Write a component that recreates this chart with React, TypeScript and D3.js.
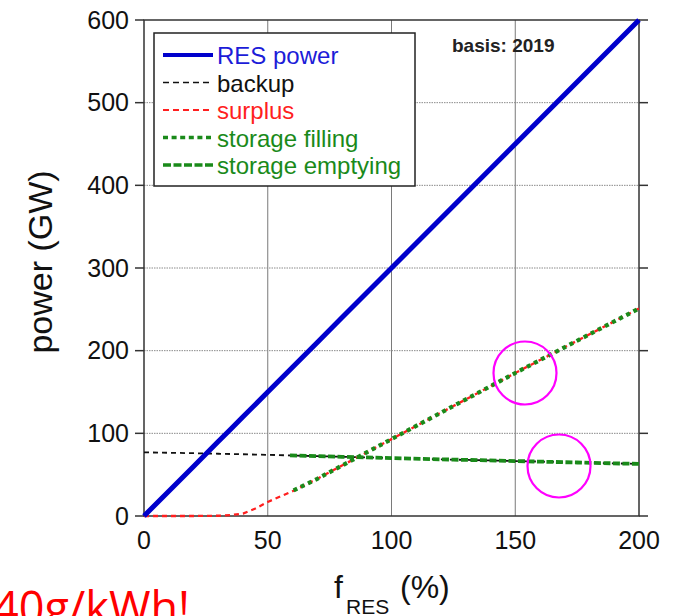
import React from "react";
import * as d3 from "d3";

// ---------- data ----------
const fRES = [0, 10, 20, 30, 35, 40, 45, 50, 60, 70, 80, 90, 100, 125, 150, 175, 200];
const resPower = [0, 30, 60, 90, 105, 120, 135, 150, 180, 210, 240, 270, 300, 375, 450, 525, 600];
const backup = [77, 76.5, 76, 75.3, 75, 74.7, 74.3, 74, 73.2, 72.4, 71.6, 70.8, 70, 68.2, 66.5, 64.7, 63];
const surplus = [0, 0, 0, 0.3, 1, 3, 9, 17, 30, 45, 61, 77, 93, 133, 173, 212, 251];

const fStorage = [59, 70, 80, 90, 100, 125, 150, 175, 200];
const storageFilling = [29, 45, 61, 77, 93, 133, 173, 212, 251];
const storageEmptying = [73.3, 72.4, 71.6, 70.8, 70, 68.2, 66.5, 64.7, 63];

const xTicks = [0, 50, 100, 150, 200];
const yTicks = [0, 100, 200, 300, 400, 500, 600];

const legendLabels = ["RES power", "backup", "surplus", "storage filling", "storage emptying"];

// ---------- styles ----------
const BLUE = "#0000cc";
const BLUE_TXT = "#1c1cd8";
const RED = "#ff1f1f";
const GREEN = "#1a8a1a";
const FONT = "'Liberation Sans', Arial, Helvetica, sans-serif";

export default function App() {
  const W = 673;
  const H = 616;
  const x = d3.scaleLinear().domain([0, 200]).range([144, 639]);
  const y = d3.scaleLinear().domain([0, 600]).range([516, 20]);

  const line = d3
    .line<[number, number]>()
    .x((d) => x(d[0]))
    .y((d) => y(d[1]));

  const pts = (xs: number[], ys: number[]) => xs.map((v, i) => [v, ys[i]] as [number, number]);

  const legendStyles = [
    { stroke: BLUE, width: 4, dash: "none", color: BLUE_TXT },
    { stroke: "#111", width: 1.6, dash: "6,4", color: "#111" },
    { stroke: RED, width: 1.8, dash: "6,4", color: RED },
    { stroke: GREEN, width: 3.5, dash: "5,3.6", color: GREEN },
    { stroke: GREEN, width: 3.5, dash: "8,2.5", color: GREEN },
  ];

  const [x0, x1] = x.range();
  const [yb, yt] = y.range();

  return (
    <svg
      width={W}
      height={H}
      style={{ position: "absolute", left: 0, top: 0, background: "#fff" }}
      fontFamily={FONT}
    >
      <rect x={0} y={0} width={W} height={H} fill="#fff" />

      {/* grid */}
      {xTicks.slice(1, -1).map((t) => (
        <line key={"gx" + t} x1={x(t)} x2={x(t)} y1={yb} y2={yt} stroke="#7a7a7a" strokeWidth={1} />
      ))}
      {yTicks.slice(1, -1).map((t) => (
        <line
          key={"gy" + t}
          x1={x0}
          x2={x1}
          y1={y(t)}
          y2={y(t)}
          stroke="#8a8a8a"
          strokeWidth={1}
          strokeDasharray="1.5,1"
        />
      ))}

      {/* frame */}
      <rect x={x0} y={yt} width={x1 - x0} height={yb - yt} fill="none" stroke="#333" strokeWidth={1.5} />
      {yTicks.map((t) => (
        <g key={"yt" + t}>
          <line x1={x0 - 9} x2={x0} y1={y(t)} y2={y(t)} stroke="#333" strokeWidth={1.5} />
          <line x1={x1} x2={x1 + 9} y1={y(t)} y2={y(t)} stroke="#333" strokeWidth={1.5} />
          <text x={129} y={y(t)} dy="0.35em" textAnchor="end" fontSize={25} fill="#111">
            {t}
          </text>
        </g>
      ))}
      {xTicks.map((t) => (
        <text key={"xt" + t} x={x(t)} y={549} textAnchor="middle" fontSize={25} fill="#111">
          {t}
        </text>
      ))}

      {/* axis titles */}
      <text transform="translate(52,262) rotate(-90)" textAnchor="middle" fontSize={34} fill="#111">
        power (GW)
      </text>
      <text x={334} y={598} fontSize={32} fill="#111">
        f
      </text>
      <text x={346} y={614} fontSize={21} fill="#111">
        RES
      </text>
      <text x={400} y={598} fontSize={32} fill="#111">
        (%)
      </text>

      {/* data lines */}
      <path d={line(pts(fRES, backup)) || ""} fill="none" stroke="#111" strokeWidth={1.8} strokeDasharray="5,4" />
      <path d={line(pts(fRES, surplus)) || ""} fill="none" stroke={RED} strokeWidth={2.3} strokeDasharray="5,4" />
      <path
        d={line(pts(fStorage, storageEmptying)) || ""}
        fill="none"
        stroke={GREEN}
        strokeWidth={3.8}
        strokeDasharray="7,2.5"
      />
      <path
        d={line(pts(fStorage, storageFilling)) || ""}
        fill="none"
        stroke={GREEN}
        strokeWidth={4.2}
        strokeDasharray="4,4"
        strokeDashoffset={4}
      />
      <path d={line(pts(fRES, resPower)) || ""} fill="none" stroke={BLUE} strokeWidth={5} />

      {/* legend */}
      <rect x={154} y={33} width={261} height={153} fill="#fff" stroke="#222" strokeWidth={1.5} />
      {legendLabels.map((lab, i) => {
        const base = 64 + i * 27.5;
        const s = legendStyles[i];
        return (
          <g key={lab}>
            <line
              x1={163}
              x2={213}
              y1={base - 9}
              y2={base - 9}
              stroke={s.stroke}
              strokeWidth={s.width}
              strokeDasharray={s.dash}
            />
            <text x={217} y={base} fontSize={24} fill={s.color}>
              {lab}
            </text>
          </g>
        );
      })}

      {/* annotation */}
      <text x={452} y={52} fontSize={19} fontWeight="bold" fill="#222">
        basis: 2019
      </text>

      {/* highlight circles */}
      <circle cx={525} cy={373} r={31.5} fill="none" stroke="#ff00ff" strokeWidth={2.2} />
      <circle cx={559} cy={466} r={31.5} fill="none" stroke="#ff00ff" strokeWidth={2.2} />

      {/* red note, cut at bottom-left as in the reference */}
      <text x={190} y={624} textAnchor="end" fontSize={45} fill="#ff0000" fontFamily="'Open Sans', 'Noto Sans', sans-serif">
        40g/kWh!
      </text>
    </svg>
  );
}
